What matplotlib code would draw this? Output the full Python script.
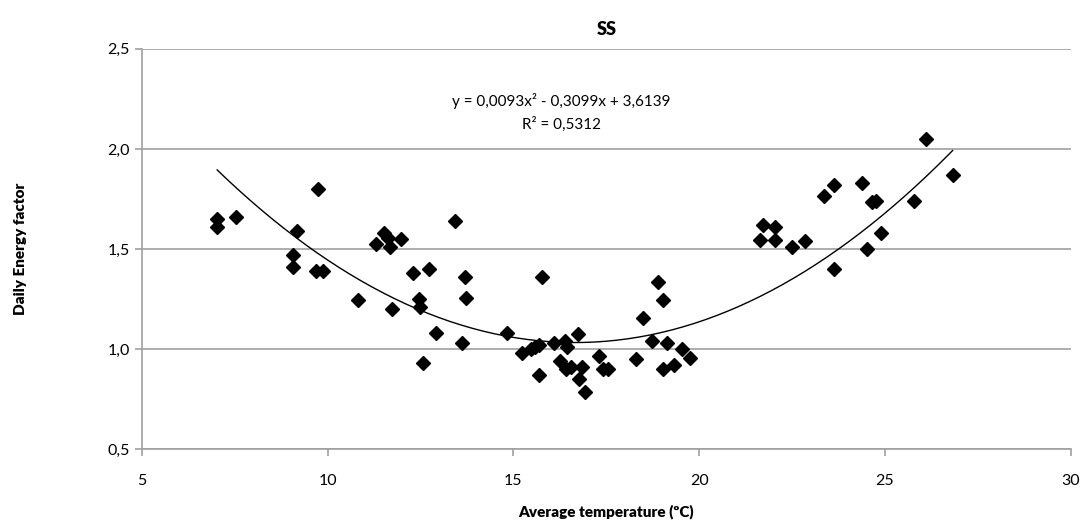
import matplotlib
matplotlib.use("Agg")
import matplotlib.pyplot as plt
import numpy as np

# Data
temp = [7.03, 7.03, 7.55, 9.73, 9.17, 9.06, 9.06, 9.68, 9.89, 10.83,
        11.31, 11.53, 11.64, 11.67, 11.98, 11.74, 12.30, 12.74, 12.45, 12.50,
        12.91, 12.58, 13.42, 13.71, 13.73, 13.62, 14.83, 15.76, 15.24, 15.48,
        15.58, 15.69, 15.68, 16.10, 16.39, 16.45, 16.73, 16.26, 16.41, 16.54,
        16.85, 16.77, 16.92, 17.31, 17.42, 17.56, 18.29, 18.50, 18.72, 18.90,
        19.02, 19.14, 19.03, 19.31, 19.54, 19.75, 21.73, 22.03, 21.64, 22.04,
        22.49, 22.84, 23.35, 23.62, 23.64, 24.37, 24.64, 24.76, 24.52, 24.89,
        25.78, 26.11, 26.82]
factor = [1.65, 1.61, 1.66, 1.80, 1.59, 1.47, 1.41, 1.39, 1.39, 1.245,
          1.525, 1.58, 1.555, 1.51, 1.55, 1.20, 1.38, 1.40, 1.25, 1.21,
          1.08, 0.93, 1.64, 1.36, 1.255, 1.03, 1.08, 1.36, 0.98, 1.00,
          1.01, 1.02, 0.87, 1.03, 1.04, 1.01, 1.075, 0.94, 0.90, 0.91,
          0.91, 0.85, 0.785, 0.965, 0.90, 0.90, 0.95, 1.155, 1.04, 1.335,
          1.245, 1.03, 0.90, 0.92, 1.00, 0.955, 1.62, 1.61, 1.545, 1.545,
          1.51, 1.54, 1.765, 1.82, 1.40, 1.83, 1.735, 1.74, 1.50, 1.58,
          1.74, 2.05, 1.87]

# polynomial trendline as printed on the chart
coeffs = [0.0093, -0.3099, 3.6139]
eq_text = "y = 0,0093x² - 0,3099x + 3,6139"
r2_text = "R² = 0,5312"

xticks = [5, 10, 15, 20, 25, 30]
yticks = [0.5, 1.0, 1.5, 2.0, 2.5]

plt.rcParams['font.family'] = ['Lato', 'DejaVu Sans']

fig = plt.figure(figsize=(10.86, 5.2), dpi=100)
ax = fig.add_axes([0.1305, 0.1365, 0.8555, 0.7695])

ax.plot(temp, factor, linestyle='none', marker='D', markersize=7.5,
        color='black', zorder=3)

xs = np.linspace(min(temp), max(temp), 200)
ax.plot(xs, np.polyval(coeffs, xs), color='black', linewidth=1.0, zorder=2)

ax.text(16.3, 2.24, eq_text, ha='center', va='center', fontsize=11)
ax.text(16.3, 2.125, r2_text, ha='center', va='center', fontsize=11)

ax.set_xlim(5, 30)
ax.set_ylim(0.5, 2.5)
ax.set_xticks(xticks)
ax.set_yticks(yticks)
ax.set_yticklabels([f"{v:.1f}".replace('.', ',') for v in yticks])
ax.set_xticklabels([str(v) for v in xticks])

ax.grid(axis='y', color='#a0a0a0', linewidth=1.2)
ax.set_axisbelow(True)
for s in ['top', 'right']:
    ax.spines[s].set_visible(False)
for s in ['left', 'bottom']:
    ax.spines[s].set_color('#a0a0a0')
    ax.spines[s].set_linewidth(1.2)
ax.tick_params(axis='both', colors='#a0a0a0', labelcolor='black',
               labelsize=11.5, length=5, width=1.2)
ax.tick_params(axis='x', pad=13)

ax.set_title("SS", fontsize=13, fontweight='heavy', pad=10)
ax.set_xlabel("Average temperature (ºC)", fontsize=11, fontweight='heavy', labelpad=12)
ax.set_ylabel("Daily Energy factor", fontsize=11, fontweight='heavy', labelpad=58)

fig.savefig("out.png", dpi=100)
